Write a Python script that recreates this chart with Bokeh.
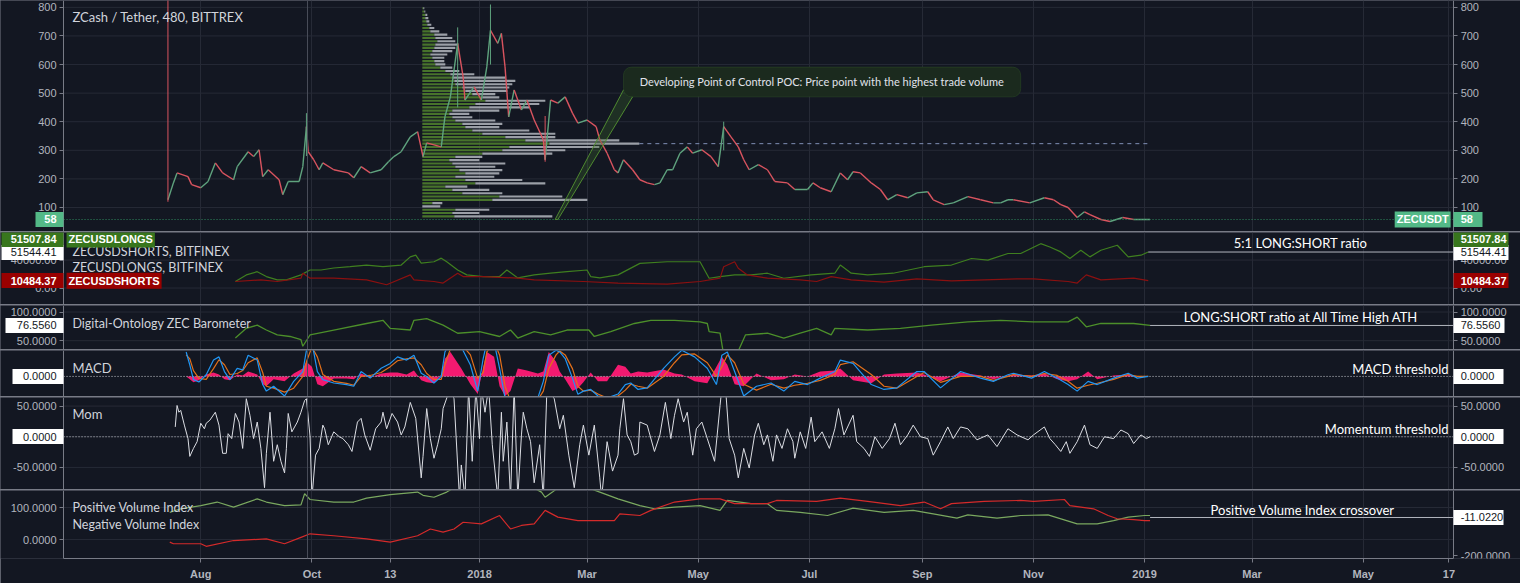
import numpy as np
from bokeh.plotting import figure
from bokeh.layouts import column
from bokeh.models import (Range1d, LinearAxis, FixedTicker, Label, Span, Grid,
                          BoxAnnotation, NumeralTickFormatter, CustomJSTickFormatter)
from bokeh.embed import file_html
from bokeh.resources import INLINE

# ---------------- data (x = days since 2018-01-01) ----------------
TIME_TICKS = [-153, -92, -49, 0, 59, 120, 181, 243, 304, 365, 424, 485, 532]
TIME_LABELS = ["Aug", "Oct", "13", "2018", "Mar", "May", "Jul", "Sep", "Nov", "2019", "Mar", "May", "17"]

PRICE_DAYS = [-171, -168, -166, -160, -158, -153, -149, -145, -141, -135,
              -133, -127, -124, -121, -119, -116, -110, -108, -105, -99,
              -97, -95, -94, -91, -88, -86, -80, -72, -69, -65,
              -60, -54, -50, -47, -43, -38, -34, -31, -29, -21,
              -19, -16, -12, -9, -8, -3, 1, 4, 6, 10,
              12, 14, 16, 19, 23, 26, 30, 35, 36, 39,
              43, 47, 51, 54, 59, 64, 66, 70, 74, 76,
              79, 84, 88, 92, 96, 99, 103, 106, 110, 114,
              117, 122, 127, 131, 134, 138, 142, 145, 148, 153,
              158, 162, 169, 173, 180, 183, 187, 193, 198, 202,
              205, 209, 215, 220, 224, 229, 235, 240, 246, 249,
              255, 260, 268, 275, 282, 286, 290, 293, 302, 310,
              315, 319, 323, 328, 332, 335, 341, 346, 353, 359,
              368]
PRICE_CLOSE = [127, 186, 221, 208, 180, 169, 191, 256, 221, 197,
               243, 295, 278, 302, 208, 232, 197, 145, 191, 191,
               243, 383, 295, 267, 232, 256, 232, 221, 204, 243,
               221, 232, 260, 278, 295, 347, 365, 278, 326, 312,
               417, 487, 674, 557, 476, 522, 476, 592, 720, 674,
               709, 592, 417, 511, 441, 476, 406, 337, 267, 476,
               465, 487, 430, 395, 406, 383, 337, 290, 232, 221,
               267, 232, 197, 186, 180, 186, 232, 232, 290, 312,
               290, 302, 278, 243, 383, 347, 312, 267, 232, 250,
               232, 191, 186, 163, 163, 186, 169, 155, 221, 197,
               225, 221, 186, 163, 127, 145, 134, 151, 155, 127,
               110, 116, 138, 127, 116, 116, 127, 127, 116, 134,
               127, 110, 100, 65, 85, 75, 58, 51, 65, 58,
               58]
WICK_DAYS = [-171, -95, -12, 6, 36, 134]
WICK_LOW = [120, 280, 450, 600, 260, 300]
WICK_HIGH = [1000, 430, 730, 810, 420, 400]

# volume profile rows (top row first), up volume and total volume
PROFILE_UP = [1, 2, 3, 3, 4, 5, 7, 8, 12, 13,
              15, 13, 12, 10, 8, 10, 12, 13, 18, 23,
              28, 30, 32, 33, 40, 43, 50, 60, 63, 53,
              47, 30, 27, 30, 33, 40, 43, 50, 60, 83,
              103, 127, 87, 80, 60, 33, 27, 30, 33, 37,
              43, 33, 43, 53, 23, 30, 40, 77, 70, 10,
              0, 33, 30, 32]
PROFILE_TOTAL = [2, 3, 5, 6, 7, 9, 12, 17, 25, 30,
                 33, 35, 33, 30, 25, 22, 22, 23, 30, 37,
                 52, 83, 93, 90, 87, 85, 73, 77, 123, 117,
                 107, 77, 47, 50, 73, 80, 77, 107, 133, 133,
                 197, 217, 177, 143, 130, 60, 57, 83, 73, 80,
                 77, 72, 100, 123, 45, 67, 80, 140, 165, 20,
                 18, 67, 57, 130]
PROFILE_HIGH, PROFILE_LOW = 797, 69
PROFILE_START = -31.4

LONGS_DAYS = [-134, -128, -122, -117, -111, -106, -98, -93, -87, -80,
              -71, -62, -53, -43, -38, -35, -32, -25, -21, -18,
              -12, -7, 2, 11, 15, 21, 30, 39, 48, 59,
              61, 66, 76, 88, 103, 121, 126, 132, 140, 149,
              158, 167, 182, 195, 198, 204, 213, 227, 244, 259,
              270, 279, 290, 297, 308, 313, 319, 324, 330, 335,
              341, 350, 356, 363, 367]
LONGS = [9300, 18800, 23400, 16400, 11700, 11700, 18800, 25800, 25800, 28700,
         30500, 32900, 30500, 32900, 44600, 47000, 35700, 37600, 42800, 37600,
         25800, 18800, 16400, 16400, 25800, 14500, 18800, 21200, 23400, 25800,
         16400, 14500, 18800, 35300, 37600, 37600, 14000, 16400, 18800, 18800,
         21200, 14000, 18800, 21200, 32900, 21200, 18800, 21200, 30500, 32900,
         42300, 40000, 49400, 49400, 63500, 58800, 51700, 42400, 54100, 44600,
         54100, 61200, 44600, 47000, 51500]
SHORTS_DAYS = [-134, -120, -111, -98, -97, -93, -80, -62, -51, -38,
               -36, -25, -20, -12, -9, 2, 21, 30, 57, 76,
               103, 121, 132, 134, 140, 142, 147, 158, 176, 185,
               193, 204, 222, 240, 259, 277, 295, 304, 323, 328,
               333, 341, 359, 367]
SHORTS = [9300, 11700, 9300, 14100, 21200, 14100, 14100, 11700, 4700, 18800,
          11700, 9300, 7100, 21200, 16400, 16400, 14100, 11700, 9300, 7100,
          5600, 9300, 14100, 30500, 37600, 28200, 18800, 14100, 11700, 9300,
          16400, 11700, 8500, 13100, 10300, 11700, 13100, 13100, 9300, 7100,
          18800, 11700, 14100, 10500]

BARO_DAYS = [-134, -128, -122, -117, -111, -104, -98, -97, -93, -80,
             -62, -53, -49, -38, -36, -29, -20, -12, 0, 11,
             17, 21, 30, 39, 48, 60, 63, 72, 85, 94,
             107, 121, 125, 126, 132, 134, 141, 146, 158, 167,
             176, 185, 193, 195, 213, 231, 248, 268, 286, 304,
             323, 328, 333, 341, 359, 368]
BARO = [54.6, 71.5, 77.1, 68.6, 60.2, 57.3, 51.7, 40.3, 60.2, 68.6,
        80, 85.6, 71.5, 68.6, 85.6, 88.5, 77.1, 63, 65.8, 57.3,
        68.6, 54.6, 65.8, 60.2, 68.6, 68.6, 57.3, 65.8, 80, 85.6,
        85.6, 82.7, 80, 65.8, 63, 25, 25, 60.2, 63, 54.6,
        63, 71.5, 60.2, 71.5, 68.6, 71.5, 77.1, 82.7, 85.6, 82.7,
        82.7, 91.2, 74.2, 80, 80, 76.6]

MACD_DAYS = [-161, -159, -157, -154, -150, -146, -143, -140, -137, -133,
             -130, -127, -122, -119, -117, -113, -107, -102, -97, -95,
             -92, -89, -86, -80, -73, -69, -65, -60, -54, -49,
             -45, -40, -36, -32, -29, -25, -21, -19, -16, -10,
             -5, -1, 2, 4, 8, 11, 14, 17, 21, 26,
             32, 35, 38, 42, 44, 47, 51, 54, 57, 61,
             65, 70, 76, 80, 83, 87, 92, 101, 107, 111,
             118, 125, 130, 133, 136, 140, 145, 152, 160, 167,
             173, 180, 187, 195, 198, 205, 215, 222, 229, 240,
             244, 253, 264, 275, 282, 290, 293, 303, 310, 317,
             323, 328, 334, 339, 348, 356, 361, 367]
MACD = [25, 11.7, -3.3, -5.7, 1.7, 16.7, 20, 5, -3.3, 8.3,
        6.7, 21.7, 16.7, -8.3, -15, -10, -20, -5, 5, 26.7,
        35, 5, -3.3, -6.7, -8.3, -10, 5, -1.7, 8.3, 13.3,
        20, 16.7, 21.7, 3.3, 0, -6.7, 0, 25, 35, 30,
        11.7, -15, 18.3, 35, 35, 8.3, -22, -24, -22, -24,
        -22, -5, 21.7, 26.7, 25, 18.3, -1.7, -18.3, -15, -13.3,
        -20, -22, -18, -8.3, -6.7, -13.3, -11.7, 8.3, 20, 26.7,
        20, 8.3, -8.3, 21.7, 25, 5, -20, -10, -6.7, -15,
        -5, -8.3, -1.7, 5, 16.7, 13.3, -8.3, -13.3, -11.7, 5,
        5, -11.7, 5, -1.7, -5, 1.7, 3.3, -1.7, 5, -1.7,
        -8.3, -15, -5, -8.3, -1.7, 3.3, -1.7, 0]
SIGNAL = [22, 18, 6, -2, -3, 8, 17, 12, 2, 3,
          6, 14, 19, 4, -10, -12, -16, -12, 0, 15,
          30, 20, 2, -5, -7, -9, 0, 1, 4, 10,
          16, 18, 19, 12, 3, -3, -3, 12, 28, 33,
          22, -2, 4, 25, 35, 22, -10, -25, -28, -26,
          -24, -15, 8, 22, 26, 22, 8, -10, -15, -14,
          -18, -22, -20, -14, -8, -10, -12, 0, 14, 22,
          23, 14, 0, 10, 22, 14, -8, -14, -8, -12,
          -9, -7, -4, 2, 12, 15, 2, -10, -12, 0,
          4, -6, 0, 0, -4, 0, 2, 0, 3, 1,
          -5, -12, -9, -7, -3, 2, 0, 0]
HIST = [0, -3, -6, -4, 2, 4, 2, -3, -4, 2,
        1, 5, 2, -8, -10, -3, -5, 3, 8, 15,
        10, -8, -10, -2, -2, -3, 3, -1, 3, 4,
        4, 2, 6, -4, -6, -7, 2, 18, 25, 8,
        -8, -18, 10, 25, 20, -10, -20, -15, 8, 6,
        3, 5, 25, 15, 5, -3, -15, -12, -6, 4,
        -5, -5, 12, 10, 3, 5, 4, 7, 3, 2,
        -5, -7, 10, 20, 12, -8, -10, 3, -4, -3,
        2, 0, 5, 6, 8, -4, -7, 2, 3, 4,
        2, -5, 4, 1, -3, 1, 2, 1, 3, -3,
        -5, -3, 5, -3, 1, 2, 0, 0]

MOM_DAYS = [-167, -166, -165, -164, -162, -160, -159, -157, -155, -153,
            -151, -150, -148, -145, -143, -141, -139, -138, -136, -134,
            -132, -130, -128, -126, -124, -122, -120, -118, -117, -115,
            -113, -111, -109, -107, -106, -105, -103, -100, -98, -96,
            -95, -93, -92, -90, -88, -86, -85, -83, -80, -77,
            -75, -72, -70, -67, -65, -63, -60, -57, -54, -53,
            -51, -48, -45, -43, -41, -38, -35, -32, -31, -29,
            -27, -25, -23, -21, -20, -16, -14, -11, -10, -8,
            -6, -4, -2, 0, 1, 3, 5, 7, 10, 12,
            13, 15, 17, 19, 21, 23, 24, 26, 28, 30,
            33, 35, 37, 41, 44, 46, 49, 52, 55, 57,
            60, 63, 66, 67, 70, 73, 76, 77, 79, 81,
            83, 85, 87,
            88, 92, 96, 99, 102, 105, 107, 109, 112, 114,
            117, 119, 122, 125, 129, 132, 133, 135, 137, 140,
            142, 145, 148, 151, 153, 156, 158, 161, 163, 166,
            169, 172, 173, 176, 179, 182, 184, 188, 192, 195,
            197, 200, 205, 207, 211, 214, 217, 221, 225, 228,
            231, 235, 238, 242, 246, 249, 253, 257, 260, 264,
            268, 273, 279, 284, 290, 295,
            301, 304, 310, 313, 316, 319, 322, 324, 328, 332,
            335, 339, 343, 348, 352, 356, 359, 363, 366, 368]
MOM = [16, 51, 40, 43, 19, -3, -32, -19, -8, 22,
       13, 22, 27, 40, 19, -27, -27, 5, -3, 38,
       24, -19, 62, 35, -3, 24, -19, -83, -27, 40,
       -40, -13, -40, -59, -19, 38, 8, 24, 40, 59,
       62, 0, -100, -30, -19, 19, 13, -13, 8, 0,
       -3, -13, -24, 24, 30, 3, -22, 13, 24, 40,
       13, 38, 24, 3, 16, 56, 30, -67, -32, 46,
       -3, -35, -13, 13, 46, 80, 62, -100, -46, -100,
       80, -40, 80, -3, 80, 40, 80, -13, -100, 40,
       -40, 24, -100, 80, -100, 3, 40, 13, -8, -75,
       -13, -100, 80, 62, 13, 35, -30, -83, -13, 19,
       -30, 19, -67, -100, -8, -56, -30, 13, 62, 3,
       -8, -30, -27,
       24, 19, -24, 3, 56, -3, 35, 62, 24, 40,
       -30, 13, 24, -3, -40, 51, 80, 80, -3, -30,
       -67, -19, -51, 3, 22, -13, 3, -40, 3, -19,
       13, -8, -35, 8, -19, 32, -8, 8, -19, 13,
       46, 3, 35, -8, -19, -32, 0, -19, -3, 22,
       -13, 3, 19, 0, -3, -30, -8, 16, -3, 16,
       13, -5, 3, -16, 13, 3,
       -5, 3, 16, -3, -13, -24, -8, -27, -8, 19,
       -13, -19, 0, -3, 11, 5, -11, 3, -3, 0]

PVI_DAYS = [-170, -164, -153, -144, -135, -122, -117, -107, -98, -96,
            -93, -80, -69, -62, -49, -34, -31, -25, -18, -10,
            0, 10, 20, 30, 34, 36, 40, 45, 55, 62,
            66, 76, 88, 96, 107, 121, 132, 136, 149, 158,
            163, 176, 191, 205, 222, 238, 249, 262, 268, 284,
            297, 312, 328, 339, 348, 356, 365, 368]
PVI = [85, 96, 106, 117, 101, 127, 117, 106, 108, 143,
       125, 117, 117, 129, 140, 148, 138, 132, 148, 175,
       190, 200, 185, 160, 148, 132, 148, 170, 165, 156,
       148, 127, 106, 96, 101, 106, 91, 122, 112, 112,
       91, 85, 75, 98, 85, 91, 80, 67, 77, 67,
       75, 77, 49, 49, 59, 70, 75, 75]
NVI_DAYS = [-170, -168, -153, -150, -135, -117, -107, -98, -93, -80,
            -62, -49, -34, -27, -20, -14, -9, 1, 11, 17,
            23, 30, 36, 43, 54, 74, 77, 88, 94, 107,
            121, 132, 140, 158, 163, 185, 198, 213, 231, 244,
            253, 259, 277, 297, 304, 321, 324, 337, 345, 350,
            359, 365, 368]
NVI = [-8, -13, -13, -21, -3, 2, -13, 7, 18, 12,
       2, -8, 12, 33, 23, 33, 54, 49, 75, 33,
       44, 49, 91, 70, 59, 59, 80, 75, 91, 117,
       127, 127, 112, 112, 122, 119, 129, 119, 106, 117,
       96, 112, 119, 122, 119, 125, 106, 96, 75, 65,
       62, 59, 59]

LAST_PRICE = 58
LONGS_LAST = 51507.84
RATIO_LEVEL = 51544.41
SHORTS_LAST = 10484.37
BARO_LAST = 76.5560
PVI_CROSS = -11.0220
MARK_DAY = -94.4

for a, b in [(PRICE_DAYS, PRICE_CLOSE), (PROFILE_UP, PROFILE_TOTAL), (LONGS_DAYS, LONGS),
             (SHORTS_DAYS, SHORTS), (BARO_DAYS, BARO), (MACD_DAYS, MACD), (MACD_DAYS, SIGNAL),
             (MACD_DAYS, HIST), (MOM_DAYS, MOM), (PVI_DAYS, PVI), (NVI_DAYS, NVI)]:
    assert len(a) == len(b), (len(a), len(b))

# ---------------- styling ----------------
W = 1520
BG = "#131722"
GRID = "#262a36"
AXC = "#787b86"
TXT = "#b2b5be"
PANE_TXT = "#d1d4dc"
UP, DOWN = "#5fa37e", "#d9545f"
# the frame spans the whole width; the price scales sit at fixed day positions
XR = Range1d(-262.9, 571.3)
XA0, XA1 = -228.3, 534.6


def style_y(ax, ticks, fmt):
    ax.ticker = FixedTicker(ticks=ticks)
    ax.formatter = NumeralTickFormatter(format=fmt)
    ax.axis_line_color = AXC
    ax.major_tick_line_color = AXC
    ax.major_tick_out = 4
    ax.major_tick_in = 0
    ax.minor_tick_line_color = None
    ax.major_label_text_color = TXT
    ax.major_label_text_font = "Liberation Sans"
    ax.major_label_text_font_size = "11px"
    ax.major_label_standoff = 3


def make_pane(h, yr, yticks, fmt, grid_ticks=None, bottom=False, right=True):
    p = figure(width=W, height=h, x_range=XR, y_range=Range1d(*yr), output_backend="svg",
               toolbar_location=None, x_axis_location="below" if bottom else None,
               y_axis_location=None,
               min_border_left=0, min_border_right=0, min_border_top=0,
               min_border_bottom=25 if bottom else 0,
               background_fill_color=BG, border_fill_color=BG, outline_line_color=None)
    p.grid.visible = False
    p.add_layout(Grid(dimension=0, ticker=FixedTicker(ticks=TIME_TICKS), grid_line_color=GRID))
    gt = yticks if grid_ticks is None else grid_ticks
    if gt:
        p.segment(x0=XA0, x1=XA1, y0=gt, y1=gt, line_color=GRID, line_width=1)
    la = LinearAxis(fixed_location=XA0)
    style_y(la, yticks, fmt)
    p.add_layout(la, "left")
    if right:
        ra = LinearAxis(fixed_location=XA1)
        style_y(ra, yticks, fmt)
        p.add_layout(ra, "right")
    p.add_layout(Span(location=MARK_DAY, dimension="height", line_color="#4a4e5a", line_width=1))
    return p


def hline(p, y, color, dash="solid", x0=XA0, x1=XA1, rn="default"):
    p.segment(x0=[x0], x1=[x1], y0=[y], y1=[y], line_color=color, line_dash=dash,
              line_width=1, y_range_name=rn)


def txt(p, x, y, s, size="12.5px", color=PANE_TXT, align="left", bold=False, rn="default"):
    p.add_layout(Label(x=x, y=y, text=s, text_font="Lato", text_font_size=size, text_color=color,
                       text_align=align, text_baseline="middle", y_range_name=rn,
                       text_font_style="bold" if bold else "normal"))


def inner_tag(p, x, y, s, fill, align, xoff):
    p.add_layout(Label(x=x, y=y, text=s, text_font="Liberation Sans", text_font_size="11px",
                       text_color="#ffffff", text_align=align, text_baseline="middle",
                       text_font_style="bold", background_fill_color=fill,
                       background_fill_alpha=1.0, padding=2, x_offset=xoff))


def axis_tag(p, side, value, s, fill, color, length, bold=False, rn="default"):
    """Price-scale value tag: a one-tick axis whose thick tick forms the box."""
    ax = LinearAxis(fixed_location=XA0 if side == "left" else XA1, y_range_name=rn)
    ax.ticker = FixedTicker(ticks=[value])
    ax.formatter = CustomJSTickFormatter(args=dict(s=s), code="return s;")
    ax.axis_line_color = None
    ax.major_tick_out = length
    ax.major_tick_in = 0
    ax.major_tick_line_width = 15
    ax.major_tick_line_color = fill
    ax.major_tick_line_cap = "butt"
    ax.minor_tick_line_color = None
    ax.major_label_text_color = color
    ax.major_label_text_font = "Liberation Sans"
    ax.major_label_text_font_size = "11px"
    ax.major_label_text_font_style = "bold" if bold else "normal"
    ax.major_label_standoff = 7 - length
    p.add_layout(ax, side)


TITLE_X = -223.4
GREEN_TAG, RED_TAG, PRICE_TAG = "#38761d", "#990000", "#53b987"
WHITE, DARK = "#ffffff", "#131722"

# ---------------- pane 1: price ----------------
p1 = make_pane(231, (16, 824), [100, 200, 300, 400, 500, 600, 700, 800], "0")
levels = np.linspace(PROFILE_HIGH, PROFILE_LOW, len(PROFILE_UP))
scale = 1 / 1.822
up = np.array(PROFILE_UP, float)
tot = np.array(PROFILE_TOTAL, float)
p1.hbar(y=levels, left=PROFILE_START, right=PROFILE_START + up * scale, height=7.5,
        fill_color="#4e7d2c", fill_alpha=0.9, line_color=None)
p1.hbar(y=levels, left=PROFILE_START + up * scale, right=PROFILE_START + tot * scale, height=7.5,
        fill_color="#b4b7be", fill_alpha=0.85, line_color=None)
poc_i = int(np.argmax(tot))
hline(p1, levels[poc_i], "#7e8fb5", "4 4", PROFILE_START + tot[poc_i] * scale, PRICE_DAYS[-1])
pd_ = np.array(PRICE_DAYS, float)
pc = np.array(PRICE_CLOSE, float)
seg_col = [UP if b >= a else DOWN for a, b in zip(pc[:-1], pc[1:])]
p1.segment(x0=pd_[:-1], y0=pc[:-1], x1=pd_[1:], y1=pc[1:], line_color=seg_col, line_width=1.4)
wcol = []
for d in WICK_DAYS:
    i = PRICE_DAYS.index(d)
    wcol.append(DOWN if i == 0 or PRICE_CLOSE[i] < PRICE_CLOSE[i - 1] else UP)
p1.segment(x0=WICK_DAYS, y0=WICK_LOW, x1=WICK_DAYS, y1=WICK_HIGH, line_color=wcol, line_width=1)
hline(p1, LAST_PRICE, "#2f8a5f", "1 2")
p1.patch([79, 84, 43, 41.5], [511, 487, 58, 58], fill_color="#3d6b2a", fill_alpha=0.3,
         line_color="#4f8a30", line_width=1)
p1.add_layout(BoxAnnotation(left=79, right=297, bottom=487, top=591, fill_color="#1b2a1e",
                            fill_alpha=1.0, line_color="#3b6a2b", line_width=1, border_radius=8))
p1.add_layout(Label(x=188, y=539, text="Developing Point of Control POC: Price point with the highest trade volume",
                    text_font="Lato", text_font_size="11px", text_color="#e0e3eb",
                    text_align="center", text_baseline="middle"))
txt(p1, TITLE_X, 765, "ZCash / Tether, 480, BITTREX", size="13px")
axis_tag(p1, "left", LAST_PRICE, "58", PRICE_TAG, WHITE, 28, bold=True)
axis_tag(p1, "right", LAST_PRICE, "58", PRICE_TAG, WHITE, 29, bold=True)
inner_tag(p1, XA1, LAST_PRICE, "ZECUSDT", PRICE_TAG, "right", -3)

# ---------------- pane 2: longs / shorts ----------------
p2 = make_pane(72, (-23600, 79500), [0, 40000], "0.00")
p2.line(LONGS_DAYS, LONGS, line_color="#3f7f1f", line_width=1.2)
p2.line(SHORTS_DAYS, SHORTS, line_color="#8b1010", line_width=1.2)
hline(p2, RATIO_LEVEL, "#b2b5be", x0=LONGS_DAYS[-1])
txt(p2, TITLE_X, 53000, "ZECUSDSHORTS, BITFINEX")
txt(p2, TITLE_X, 30000, "ZECUSDLONGS, BITFINEX")
txt(p2, 450.6, 64500, "5:1 LONG:SHORT ratio", size="13px", color=WHITE, align="center")
top2 = 69500
axis_tag(p2, "left", RATIO_LEVEL, "51544.41", WHITE, DARK, 62)
axis_tag(p2, "left", top2, "51507.84", GREEN_TAG, WHITE, 62, bold=True)
axis_tag(p2, "left", SHORTS_LAST, "10484.37", RED_TAG, WHITE, 62, bold=True)
axis_tag(p2, "right", RATIO_LEVEL, "51544.41", WHITE, DARK, 55)
axis_tag(p2, "right", top2, "51507.84", GREEN_TAG, WHITE, 55, bold=True)
axis_tag(p2, "right", SHORTS_LAST, "10484.37", RED_TAG, WHITE, 55, bold=True)
inner_tag(p2, XA0, top2, "ZECUSDLONGS", GREEN_TAG, "left", 3)
inner_tag(p2, XA0, SHORTS_LAST, "ZECUSDSHORTS", RED_TAG, "left", 3)

# ---------------- pane 3: barometer ----------------
p3 = make_pane(44, (34.6, 111.4), [50, 100], "0.0000")
p3.line(BARO_DAYS, BARO, line_color="#4c8f2a", line_width=1.3)
hline(p3, BARO_LAST, "#b2b5be", x0=BARO_DAYS[-1])
txt(p3, TITLE_X, 80.7, "Digital-Ontology ZEC Barometer")
txt(p3, 451, 91, "LONG:SHORT ratio at All Time High ATH", size="13px", color=WHITE, align="center")
axis_tag(p3, "left", BARO_LAST, "76.5560", WHITE, DARK, 58)
axis_tag(p3, "right", BARO_LAST, "76.5560", WHITE, DARK, 51)

# ---------------- pane 4: MACD ----------------
p4 = make_pane(46, (-20.5, 26.5), [0], "0.0000", grid_ticks=[])
p4.varea(x=MACD_DAYS, y1=0, y2=HIST, fill_color="#ff1a75", fill_alpha=0.95)
hline(p4, 0, "#c8cad0", "1 2")
p4.line(MACD_DAYS, SIGNAL, line_color="#e3701a", line_width=1.2)
p4.line(MACD_DAYS, MACD, line_color="#2196f3", line_width=1.2)
txt(p4, TITLE_X, 8.7, "MACD", size="13px")
txt(p4, 531.8, 7.7, "MACD threshold", size="13px", color=WHITE, align="right")
axis_tag(p4, "left", 0, "0.0000", WHITE, DARK, 51)
axis_tag(p4, "right", 0, "0.0000", WHITE, DARK, 50)

# ---------------- pane 5: momentum ----------------
p5 = make_pane(92, (-86, 64), [-50, 0, 50], "0.0000")
hline(p5, 0, "#c8cad0", "1 2")
p5.line(MOM_DAYS, MOM, line_color="#dcdee4", line_width=1)
txt(p5, TITLE_X, 36.6, "Mom", size="13px")
txt(p5, 531.8, 12.4, "Momentum threshold", size="13px", color=WHITE, align="right")
axis_tag(p5, "left", 0, "0.0000", WHITE, DARK, 51)
axis_tag(p5, "right", 0, "0.0000", WHITE, DARK, 50)

# ---------------- pane 6: PVI / NVI ----------------
p6 = make_pane(93, (-59, 153), [0, 100], "0.0000", bottom=True, right=False)
p6.extra_y_ranges = {"r": Range1d(-214.9, 123.2)}
ra6 = LinearAxis(y_range_name="r", fixed_location=XA1)
style_y(ra6, [-200, 0], "0.0000")
p6.add_layout(ra6, "right")
p6.line(PVI_DAYS, PVI, line_color="#7aa85f", line_width=1.2)
p6.line(NVI_DAYS, NVI, line_color="#d42a2a", line_width=1.2)
hline(p6, PVI_CROSS, "#b2b5be", x0=PVI_DAYS[-1], rn="r")
txt(p6, TITLE_X, 100, "Positive Volume Index")
txt(p6, TITLE_X, 47, "Negative Volume Index")
txt(p6, 451.7, 93.75, "Positive Volume Index crossover", size="13px", color=WHITE, align="center")
axis_tag(p6, "right", PVI_CROSS, "-11.0220", WHITE, DARK, 50, rn="r")

xa = p6.xaxis[0]
xa.ticker = FixedTicker(ticks=TIME_TICKS)
xa.formatter = CustomJSTickFormatter(args=dict(tvals=TIME_TICKS, tlabs=TIME_LABELS),
                                     code="const k = tvals.indexOf(tick); return k >= 0 ? tlabs[k] : '';")
xa.bounds = (XA0, XA1)
xa.axis_line_color = AXC
xa.major_tick_line_color = AXC
xa.major_tick_out = 4
xa.major_tick_in = 0
xa.minor_tick_line_color = None
xa.major_label_text_color = TXT
xa.major_label_text_font = "Liberation Sans"
xa.major_label_text_font_size = "11px"
xa.major_label_text_font_style = "bold"
xa.major_label_standoff = 5

layout = column(p1, p2, p3, p4, p5, p6, spacing=1, styles={"background-color": AXC})

open("out.html", "w").write(file_html(layout, INLINE))
